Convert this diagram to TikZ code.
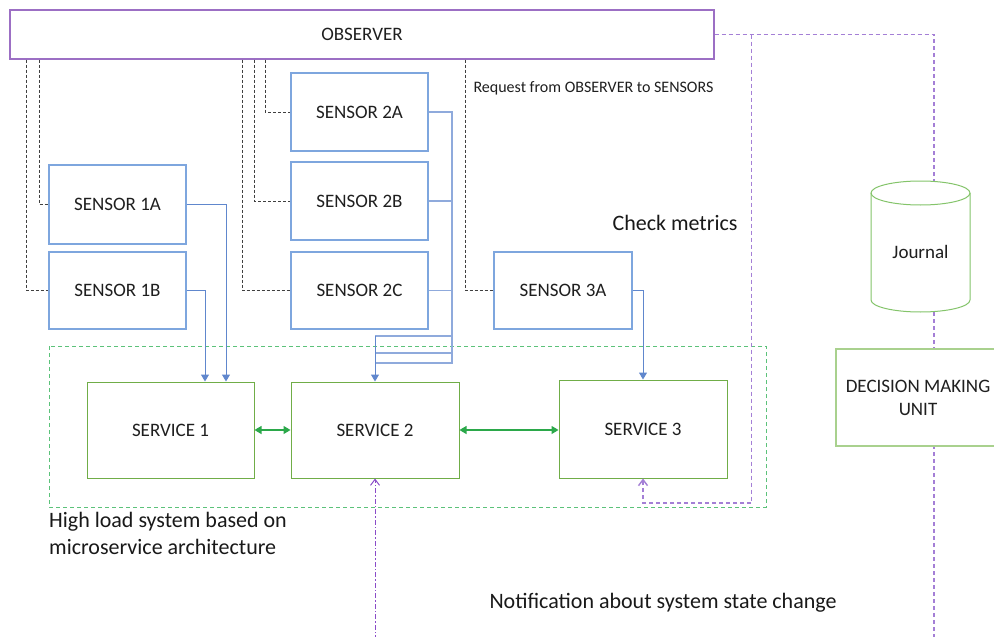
\documentclass[tikz,border=0pt]{standalone}
\usepackage{fontspec}
\setmainfont{Carlito}
\usetikzlibrary{arrows.meta,backgrounds}
\definecolor{obsc}{HTML}{9C6FC4}
\definecolor{senc}{HTML}{7EA6DE}
\definecolor{bluec}{HTML}{4472C4}
\definecolor{srvc}{HTML}{70AD47}
\definecolor{grnar}{HTML}{2BA84A}
\definecolor{contc}{HTML}{5CC27A}
\definecolor{lavc}{HTML}{A47FD6}
\definecolor{purc}{HTML}{8A4CC8}
\definecolor{dmuc}{HTML}{A9D18E}
\definecolor{jrnc}{HTML}{84C46A}
\begin{document}
\begin{tikzpicture}[x=1pt,y=-1pt,
  lbl/.style={font=\fontsize{19}{23}\selectfont, text=black!88, align=center},
  obsbox/.style={draw=obsc, line width=1.2pt, fill=white, lbl, inner sep=0pt},
  senbox/.style={draw=senc, line width=1.1pt, fill=white, lbl, inner sep=0pt, minimum width=137pt},
  srvbox/.style={draw=srvc, line width=1pt, fill=white, lbl, inner sep=0pt, minimum width=168pt},
  req/.style={draw=black!75, line width=0.8pt, dash pattern=on 3pt off 2pt},
  flow/.style={draw=bluec!85, line width=1pt, -{Triangle[length=7pt,width=8pt]}},
  flowb/.style={draw=bluec!60, line width=1.1pt},
  dbl/.style={draw=grnar, line width=1.1pt, {Triangle[length=7pt,width=8pt]}-{Triangle[length=7pt,width=8pt]}},
  lav/.style={draw=lavc, line width=1.4pt, dash pattern=on 4pt off 3pt},
  notif/.style={draw=purc, line width=1pt, dash pattern=on 5pt off 2pt on 1.5pt off 2pt, -{Straight Barb[open,length=6pt,width=9pt]}},
  notifb/.style={draw=lavc, line width=1.4pt, dash pattern=on 4pt off 3pt, -{Straight Barb[open,length=6pt,width=9pt]}},
  big/.style={font=\fontsize{22}{27}\selectfont, text=black!90, align=left}
]
\useasboundingbox (0,0) rectangle (994,637);

% container
\draw[draw=contc, line width=1pt, dash pattern=on 4pt off 3pt] (49,346) rectangle (766,507);

% nodes
\node[obsbox, minimum width=704pt, minimum height=49pt] (obs) at (362,34.5) {OBSERVER};
\node[senbox, minimum height=79pt] (s1a) at (117.5,204.5) {SENSOR 1A};
\node[senbox, minimum height=77pt] (s1b) at (117.5,290.5) {SENSOR 1B};
\node[senbox, minimum height=78pt] (s2a) at (359.5,112) {SENSOR 2A};
\node[senbox, minimum height=78pt] (s2b) at (359.5,201) {SENSOR 2B};
\node[senbox, minimum height=77pt] (s2c) at (359.5,290.5) {SENSOR 2C};
\node[senbox, minimum width=138pt, minimum height=77pt] (s3a) at (563,290.5) {SENSOR 3A};
\node[srvbox, minimum width=167pt, minimum height=96pt] (sv1) at (170.5,430) {SERVICE 1};
\node[srvbox, minimum height=96pt] (sv2) at (375,430) {SERVICE 2};
\node[srvbox, minimum height=98pt] (sv3) at (643,429) {SERVICE 3};
\node[draw=dmuc, line width=1.2pt, fill=white, lbl, inner sep=0pt, minimum width=164pt, minimum height=97pt] (dmu) at (918,397.5) {DECISION MAKING\\UNIT};

% journal cylinder
\fill[white] (871,193) -- (871,300) arc[start angle=180,end angle=360,x radius=49.5pt,y radius=12pt] -- (970,193) arc[start angle=0,end angle=180,x radius=49.5pt,y radius=12pt] -- cycle;
\draw[draw=jrnc, line width=1pt] (871,193) -- (871,300) arc[start angle=180,end angle=360,x radius=49.5pt,y radius=12pt] -- (970,193);
\draw[draw=jrnc, line width=1pt] (920.5,193) ellipse[x radius=49.5pt, y radius=12pt];
\node[lbl] (jn) at (920.5,252) {Journal};

% background connectors
\begin{pgfonlayer}{background}
\fill[white] (0,0) rectangle (994,637);
\coordinate (pbot) at (934,640);
\draw[lav] (obs.east) -| (pbot);
\end{pgfonlayer}

% requests from observer
\draw[req] (obs.south west) ++(17,0) |- (s1b.west);
\draw[req] (obs.south west) ++(30,0) |- (s1a.west);
\draw[req] (obs.south west) ++(233,0) |- (s2c.west);
\draw[req] (obs.south west) ++(245,0) |- (s2b.west);
\draw[req] (obs.south west) ++(256,0) |- (s2a.west);
\draw[req] (obs.south west) ++(456,0) |- (s3a.west);
\node[anchor=west, font=\fontsize{16}{19}\selectfont, text=black!88] (rq) at (470,88) {Request from OBSERVER to SENSORS};

% sensor -> service flows
\draw[flow] (s1a.east) -| ([xshift=55.5pt]sv1.north);
\draw[flow] (s1b.east) -| ([xshift=34.5pt]sv1.north);
\coordinate (b1) at (452,336);
\coordinate (b2) at (452,353);
\coordinate (b3) at (452,363);
\draw[flowb] (s2a.east) -| (b1) -- (b1 -| sv2.north);
\draw[flowb] (s2b.east) -| (b2) -- (b2 -| sv2.north);
\draw[flowb] (s2c.east) -| (b3) -- (b3 -| sv2.north);
\draw[flow] (b1 -| sv2.north) -- (sv2.north);
\draw[flow] (s3a.east) -| (sv3.north);

% service interconnections
\draw[dbl] (sv1.east) -- (sv2.west);
\draw[dbl] (sv2.east) -- (sv3.west |- sv2.east);

% notifications
\coordinate (k1) at (643,503);
\draw[notifb] ([xshift=37pt]obs.east) |- (k1) -- (sv3.south);
\coordinate (nb) at (375,640);
\draw[notif] (nb) -- (sv2.south);

% labels
\node[big, anchor=west] (cm) at (609,223) {Check metrics};
\node[big, anchor=north west, inner sep=0pt] (hl) at (49,512) {High load system based on\\microservice architecture};
\node[big, anchor=west] (nt) at (486,603) {Notification about system state change};
\end{tikzpicture}
\end{document}
